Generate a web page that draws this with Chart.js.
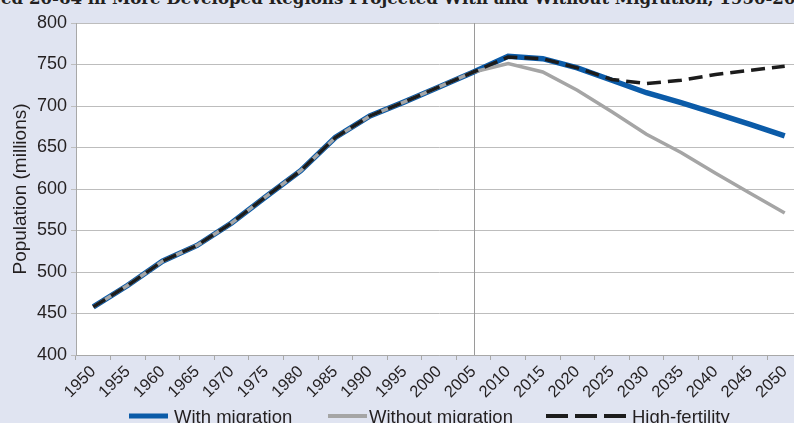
<!DOCTYPE html>
<html>
<head>
<meta charset="utf-8">
<script src="https://cdn.jsdelivr.net/npm/chart.js@4.4.0/dist/chart.umd.min.js"></script>
<style>
  html, body { margin:0; padding:0; width:794px; height:423px; overflow:hidden; background:#e0e4f1; }
  #wrap { position:absolute; left:0; top:0; width:810px; height:423px; }
  #title { position:absolute; top:-12px; white-space:nowrap; font-family:"DejaVu Serif", serif; font-weight:bold; font-size:16.6px; color:#231f20; }
  .lg { position:absolute; font-family:"Liberation Sans", Arial, sans-serif; font-size:18.5px; color:#231f20; top:406px; white-space:nowrap; }
  .sw { position:absolute; }
</style>
</head>
<body>
<div id="title">Population Aged 20-64 in More Developed Regions Projected With and Without Migration, 1950-2050</div>
<div id="wrap"><canvas id="c" width="810" height="423"></canvas></div>
<svg class="sw" style="left:0;top:0" width="794" height="423">
  <line x1="129" y1="416" x2="168" y2="416" stroke="#0b5ba8" stroke-width="5"/>
  <line x1="328" y1="416" x2="367" y2="416" stroke="#a5a5a5" stroke-width="4"/>
  <line x1="546" y1="416" x2="628" y2="416" stroke="#1c1c1c" stroke-width="4" stroke-dasharray="22,7"/>
</svg>
<div class="lg" style="left:174px">With migration</div>
<div class="lg" style="left:369px">Without migration</div>
<div class="lg" style="left:632px">High-fertility</div>
<script>
const years = ['1950','1955','1960','1965','1970','1975','1980','1985','1990','1995','2000','2005','2010','2015','2020','2025','2030','2035','2040','2045','2050'];
const withMigration    = [458,484,513,532,559,591,622,662,688,705,723,741,760,757,746,731,716,704,691,678,664];
const withoutMigration = [458,484,513,532,559,591,622,662,688,705,723,741,751,741,719,693,666,644,619,595,571];
const highFertility    = [458,484,513,532,559,591,622,662,688,705,723,741,759,757,746,732,727,731,738,743,748];
const yTicks = [400,450,500,550,600,650,700,750,800];
const markerYear = '2005';

(function(){
  const t = document.getElementById('title');
  const cv = document.createElement('canvas').getContext('2d');
  cv.font = 'bold 16.6px "DejaVu Serif"';
  const pre = cv.measureText('Population Ag').width;
  t.style.left = (-pre + 1) + 'px';
})();

const bgPlugin = {
  id:'bg',
  beforeDraw(chart){
    const {ctx, chartArea:a} = chart;
    ctx.save(); ctx.fillStyle = '#ffffff';
    ctx.fillRect(a.left, a.top, a.right-a.left, a.bottom-a.top);
    ctx.restore();
  },
  beforeDatasetsDraw(chart){
    const {ctx, chartArea:a, scales} = chart;
    const x = Math.round(scales.x.getPixelForValue(years.indexOf(markerYear))) + 0.5;
    ctx.save(); ctx.strokeStyle = '#9a9a9a'; ctx.lineWidth = 1;
    ctx.beginPath(); ctx.moveTo(x, a.top); ctx.lineTo(x, a.bottom); ctx.stroke();
    ctx.restore();
  }
};

new Chart(document.getElementById('c'), {
  type:'line',
  data:{
    labels: years,
    datasets:[
      {label:'With migration', data: withMigration, borderColor:'#0b5ba8', borderWidth:5.5, pointRadius:0, tension:0, order:3},
      {label:'Without migration', data: withoutMigration, borderColor:'#a5a5a5', borderWidth:3.5, pointRadius:0, tension:0, order:2},
      {label:'High-fertility', data: highFertility, borderColor:'#1c1c1c', borderWidth:3.5, borderDash:[14,7], pointRadius:0, tension:0, order:1}
    ]
  },
  options:{
    responsive:false, animation:false,
    layout:{ padding:{ left:0, right:8, top:23, bottom:0 } },
    plugins:{ legend:{display:false}, tooltip:{enabled:false} },
    scales:{
      x:{
        type:'category', offset:true,
        grid:{ offset:true, drawOnChartArea:false, drawTicks:true, tickLength:5, color:'#a8a8a8' },
        border:{ color:'#a8a8a8', width:1 },
        ticks:{ minRotation:45, maxRotation:45, autoSkip:false, padding:2, color:'#231f20', font:{ family:'"Liberation Sans", Arial, sans-serif', size:16.5 } },
        afterFit(s){ s.height = 68; }
      },
      y:{
        min:400, max:800,
        afterBuildTicks(s){ s.ticks = yTicks.map(v=>({value:v})); },
        grid:{ color:'#bdbdbd', tickLength:5, drawTicks:true, lineWidth:1 },
        border:{ color:'#a8a8a8', width:1 },
        ticks:{ padding:4, color:'#231f20', font:{ family:'"Liberation Sans", Arial, sans-serif', size:18 } },
        title:{ display:true, text:'Population (millions)', color:'#231f20', padding:{top:9,bottom:0}, font:{ family:'"Liberation Sans", Arial, sans-serif', size:19 } },
        afterFit(s){ s.width = 76; }
      }
    }
  },
  plugins:[bgPlugin]
});
</script>
</body>
</html>
